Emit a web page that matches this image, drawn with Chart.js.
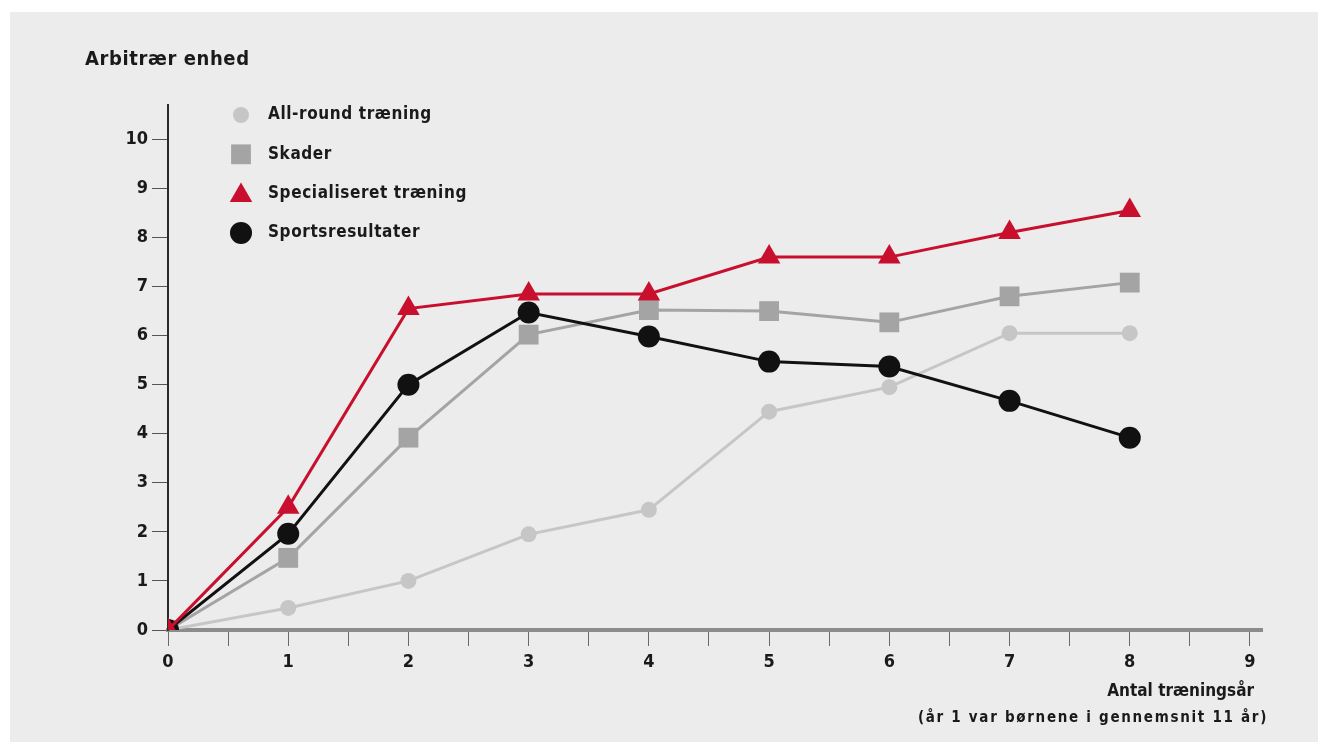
<!DOCTYPE html>
<html>
<head>
<meta charset="utf-8">
<script src="https://cdn.jsdelivr.net/npm/chart.js@4/dist/chart.umd.min.js"></script>
<style>
  html, body { margin: 0; padding: 0; background: #ffffff; }
  #wrap { width: 1328px; height: 752px; }
</style>
</head>
<body>
<div id="wrap"><canvas id="c" width="1328" height="752"></canvas></div>
<script>
// Training years on the x axis
const years = [0, 1, 2, 3, 4, 5, 6, 7, 8];
const xTickValues = [0, 1, 2, 3, 4, 5, 6, 7, 8, 9];
const yTickValues = [0, 1, 2, 3, 4, 5, 6, 7, 8, 9, 10];

// Series (arbitrary units)
const allRound     = [0, 0.45, 1.0, 1.95, 2.45, 4.45, 4.95, 6.05, 6.05];
const skader       = [0, 1.47, 3.92, 6.02, 6.52, 6.5, 6.27, 6.8, 7.08];
const specialiseret = [0, 2.5, 6.55, 6.85, 6.85, 7.6, 7.6, 8.1, 8.55];
const sportsresultater = [0, 1.96, 5.0, 6.47, 5.98, 5.47, 5.37, 4.67, 3.92];

const seriesNames = ['All-round træning', 'Skader', 'Specialiseret træning', 'Sportsresultater'];

const FONT = "'Liberation Sans Narrow', 'DejaVu Sans Condensed', 'Liberation Sans', sans-serif";
const INK = '#1a1a1a';

const toPts = arr => arr.map((v, i) => ({ x: years[i], y: v }));

const styles = [
  { color: '#c6c6c6', point: 'circle',   radius: 8,  order: 4 },
  { color: '#a4a4a4', point: 'rect',     radius: 14, order: 3 },
  { color: '#c8102e', point: 'triangle', radius: 13, order: 1 },
  { color: '#111111', point: 'circle',   radius: 11, order: 2 }
];
const seriesData = [allRound, skader, specialiseret, sportsresultater];

const datasets = seriesData.map((d, i) => ({
  label: seriesNames[i],
  data: toPts(d),
  borderColor: styles[i].color,
  backgroundColor: styles[i].color,
  pointBackgroundColor: styles[i].color,
  pointBorderColor: styles[i].color,
  pointBorderWidth: 0,
  pointStyle: styles[i].point,
  pointRadius: styles[i].radius,
  pointHoverRadius: styles[i].radius,
  borderWidth: 3,
  tension: 0,
  order: styles[i].order
}));

// Grey panel behind the chart
const panel = {
  id: 'panel',
  beforeDraw(chart) {
    const ctx = chart.ctx;
    ctx.save();
    ctx.fillStyle = '#ececec';
    ctx.fillRect(10, 12, 1308, 730);
    ctx.restore();
  }
};

// Axis titles and the in-plot legend
const annotations = {
  id: 'annotations',
  afterDraw(chart) {
    const ctx = chart.ctx;
    ctx.save();
    ctx.fillStyle = INK;
    ctx.textBaseline = 'middle';

    ctx.font = `bold 20px ${FONT}`;
    ctx.letterSpacing = '0.6px';
    ctx.textAlign = 'left';
    ctx.fillText('Arbitrær enhed', 85, 60);

    ctx.textAlign = 'right';
    ctx.letterSpacing = '0px';
    ctx.font = `bold 17px ${FONT}`;
    ctx.fillText('Antal træningsår', 1254, 692);
    ctx.font = `bold 15px ${FONT}`;
    ctx.letterSpacing = '1.7px';
    ctx.fillText('(år 1 var børnene i gennemsnit 11 år)', 1268, 718);

    // legend
    const lx = 241, ly0 = 115, step = 39.3;
    seriesNames.forEach((name, i) => {
      const y = ly0 + i * step;
      const s = styles[i];
      ctx.fillStyle = s.color;
      ctx.strokeStyle = s.color;
      Chart.helpers.drawPoint(ctx, { pointStyle: s.point, radius: s.radius, borderWidth: 0 }, lx, y + (s.point === 'triangle' ? 2 : 0));
      ctx.fillStyle = INK;
      ctx.textAlign = 'left';
      ctx.font = `bold 17px ${FONT}`;
      ctx.letterSpacing = '0.6px';
      ctx.fillText(name, 268, y);
    });
    ctx.restore();
  }
};

new Chart(document.getElementById('c'), {
  type: 'line',
  data: { datasets },
  plugins: [panel, annotations],
  options: {
    responsive: false,
    animation: false,
    events: [],
    layout: { padding: { left: 0, top: 105, right: 66, bottom: 72 } },
    plugins: { legend: { display: false }, tooltip: { enabled: false } },
    scales: {
      x: {
        type: 'linear',
        min: 0,
        max: 9.1,
        afterFit(scale) { scale.height = 50; },
        afterBuildTicks(scale) {
          const t = [];
          xTickValues.forEach((v, i) => {
            t.push({ value: v });
            if (i < xTickValues.length - 1) t.push({ value: v + 0.5 });
          });
          scale.ticks = t;
        },
        border: { display: true, color: '#8c8c8c', width: 4 },
        grid: {
          drawOnChartArea: false,
          drawTicks: true,
          tickLength: 16,
          color: '#6a6a6a',
          lineWidth: 1
        },
        ticks: {
          autoSkip: false,
          maxRotation: 0,
          padding: 6,
          color: INK,
          font: { family: FONT, size: 18, weight: 'bold' },
          callback: v => (Number.isInteger(v) ? String(v) : '')
        }
      },
      y: {
        type: 'linear',
        min: 0,
        max: 10.7,
        afterFit(scale) { scale.width = 168; },
        afterBuildTicks(scale) {
          scale.ticks = yTickValues.map(v => ({ value: v }));
        },
        border: { display: true, color: '#2a2a2a', width: 2 },
        grid: {
          drawOnChartArea: false,
          drawTicks: true,
          tickLength: 16,
          color: '#555555',
          lineWidth: 1
        },
        ticks: {
          padding: 4,
          color: INK,
          font: { family: FONT, size: 18, weight: 'bold' },
          callback: v => String(v)
        }
      }
    }
  }
});
</script>
</body>
</html>
